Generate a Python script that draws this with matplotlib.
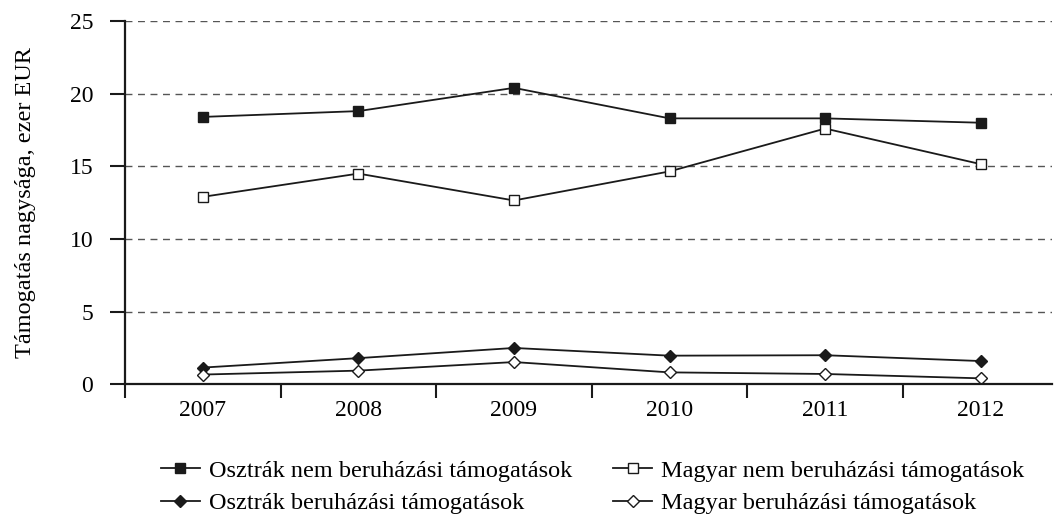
import matplotlib
matplotlib.use('Agg')
import matplotlib.pyplot as plt
import numpy as np

plt.rcParams.update({'font.family': ['Liberation Serif', 'DejaVu Serif'],
                     'axes.unicode_minus': False})

years = ['2007', '2008', '2009', '2010', '2011', '2012']
osztrak_nem = [18.4, 18.8, 20.4, 18.3, 18.3, 18.0]
magyar_nem = [12.9, 14.5, 12.65, 14.65, 17.6, 15.15]
osztrak_ber = [1.15, 1.8, 2.5, 1.97, 2.0, 1.6]
magyar_ber = [0.67, 0.94, 1.53, 0.82, 0.71, 0.41]

labels = ['Osztrák nem beruházási támogatások',
          'Magyar nem beruházási támogatások',
          'Osztrák beruházási támogatások',
          'Magyar beruházási támogatások']

fig = plt.figure(figsize=(10.54, 5.15), dpi=100)
ax = fig.add_axes([0.1186, 0.2538, 0.8795, 0.7054])

x = np.arange(len(years))
col = '#1a1a1a'
kw = dict(color=col, lw=1.3, markeredgecolor=col, markeredgewidth=1.0)
h1, = ax.plot(x, osztrak_nem, marker='s', ms=7.5, mfc=col, label=labels[0], **kw)
h2, = ax.plot(x, magyar_nem, marker='s', ms=7.5, mfc='white', label=labels[1], **kw)
h3, = ax.plot(x, osztrak_ber, marker='D', ms=6.5, mfc=col, label=labels[2], **kw)
h4, = ax.plot(x, magyar_ber, marker='D', ms=6.5, mfc='white', label=labels[3], **kw)

for yv in [5, 10, 15, 20, 25]:
    ax.axhline(yv, color='#555555', ls=(0, (5, 4)), lw=1.0, zorder=0)

ax.set_xlim(-0.5, 5.458)
ax.set_ylim(0, 25)
ax.set_yticks([0, 5, 10, 15, 20, 25])
ax.set_xticks(x)
ax.set_xticklabels(years)
ax.set_xticks(np.arange(-0.5, 5.0, 1.0), minor=True)
ax.tick_params(axis='x', which='major', length=0, labelsize=17, pad=11)
ax.tick_params(axis='x', which='minor', length=10, width=1.5, direction='out', color=col)
ax.tick_params(axis='y', length=10.8, width=1.5, direction='out', labelsize=17, pad=12, color=col)

for s in ['top', 'right']:
    ax.spines[s].set_visible(False)
for s in ['left', 'bottom']:
    ax.spines[s].set_linewidth(1.6)
    ax.spines[s].set_color(col)

ax.set_ylabel('Támogatás nagysága, ezer EUR', fontsize=17.5, labelpad=24)

# sorfolytonos sorrend: ncol=2 oszlopfolytonosan tölt
fig.legend([h1, h3, h2, h4], [labels[0], labels[2], labels[1], labels[3]],
           loc='upper left', bbox_to_anchor=(0.1526, 0.107),
           ncol=2, frameon=False, fontsize=17.5, handlelength=1.6,
           columnspacing=1.7, labelspacing=0.43, handletextpad=0.37,
           borderpad=0, borderaxespad=0)

fig.savefig('out.png', dpi=100)
